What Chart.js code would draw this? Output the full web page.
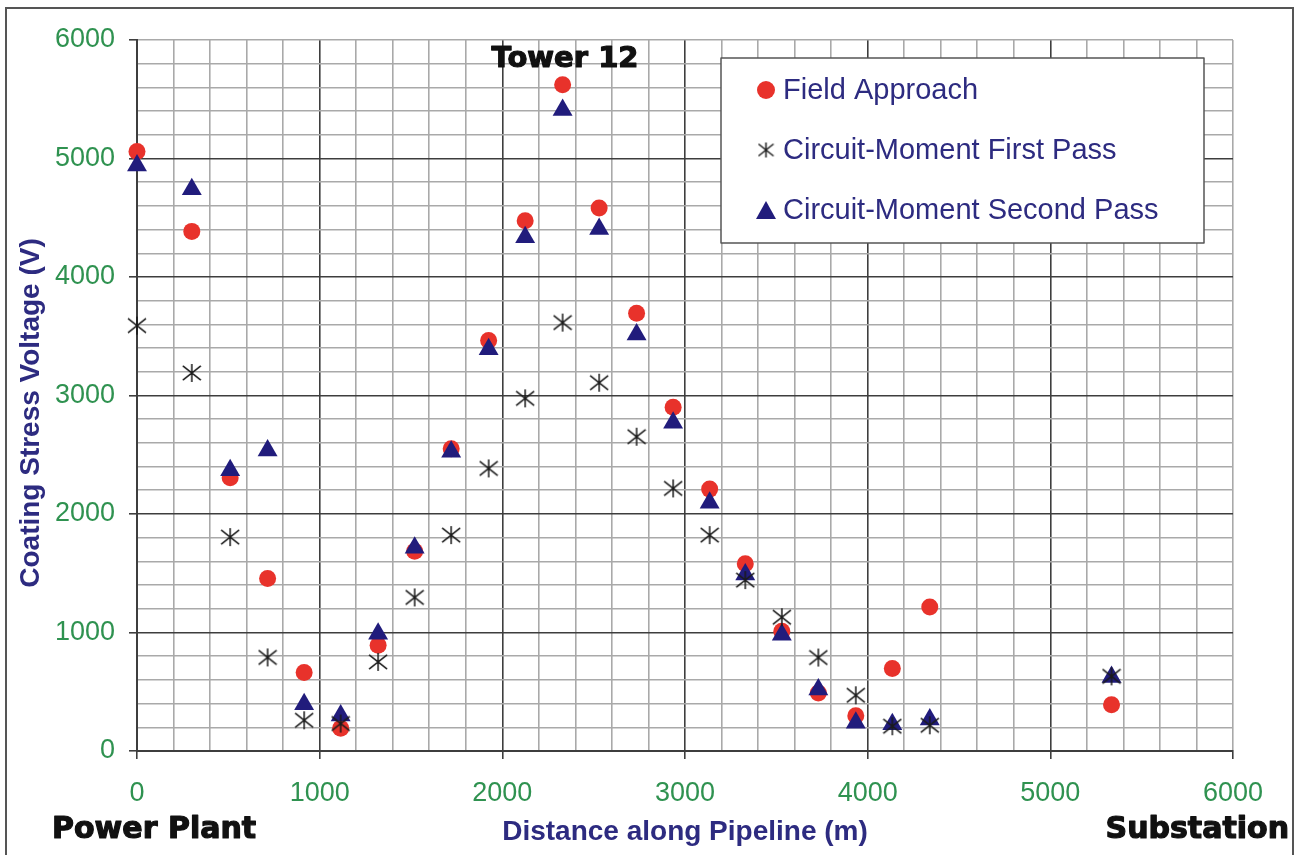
<!DOCTYPE html>
<html>
<head>
<meta charset="utf-8">
<script src="https://cdn.jsdelivr.net/npm/chart.js@4"></script>
<style>
  html, body { margin: 0; padding: 0; background: #fff; }
  #wrap { width: 1296px; height: 855px; position: relative; }
</style>
</head>
<body>
<div id="wrap"><canvas id="chartCanvas" width="1296" height="855"></canvas></div>
<script>
// distance along pipeline (m), shared by all three series
const distances = [0, 300, 510, 715, 915, 1115, 1320, 1520, 1720, 1925, 2125, 2330, 2530, 2735, 2935, 3135, 3330, 3530, 3730, 3935, 4135, 4340, 5335];
const fieldApproach = [5060, 4385, 2305, 1456, 662, 192, 893, 1685, 2550, 3465, 4475, 5622, 4582, 3695, 2900, 2210, 1580, 1011, 490, 297, 697, 1215, 390];
const firstPass = [3590, 3190, 1805, 790, 259, 232, 752, 1296, 1822, 2385, 2976, 3615, 3108, 2652, 2216, 1822, 1442, 1129, 789, 470, 209, 217, 630];
const secondPass = [4940, 4740, 2370, 2535, 395, 300, 990, 1715, 2525, 3390, 4335, 5410, 4405, 3515, 2770, 2095, 1490, 980, 520, 238, 225, 265, 625];
const seriesNames = ['Field Approach', 'Circuit-Moment First Pass', 'Circuit-Moment Second Pass'];
const xTicks = [0, 1000, 2000, 3000, 4000, 5000, 6000];
const yTicks = [0, 1000, 2000, 3000, 4000, 5000, 6000];

const RED = '#e8322b';
const NAVY = '#211c7c';
const TEXT_NAVY = '#2d2b80';
const GREEN = '#2f9250';
const MAJOR = '#3e3e3e';
const MINOR = '#a9a9a9';

function makeStar(size, lw) {
  const c = document.createElement('canvas');
  c.width = size; c.height = size;
  const g = c.getContext('2d');
  const m = size / 2, r = size / 2 - 1;
  g.strokeStyle = '#1a1a1a';
  g.lineWidth = lw;
  g.beginPath();
  g.moveTo(m - r, m - r * 0.8); g.lineTo(m + r, m + r * 0.8);
  g.moveTo(m - r, m + r * 0.8); g.lineTo(m + r, m - r * 0.8);
  g.moveTo(m, m - r); g.lineTo(m, m + r);
  g.stroke();
  return c;
}
const starMark = makeStar(20, 1.5);
const starLegend = makeStar(17, 1.5);

function pts(ys) {
  return distances.map((d, i) => ({ x: d, y: ys[i] }));
}

const isMajor = v => v % 1000 === 0;

function heavyText(c, txt, x, y) {
  c.fillText(txt, x, y);
  c.strokeText(txt, x, y);
}

const extras = {
  id: 'extras',
  afterDraw(chart) {
    const c = chart.ctx;
    c.save();
    // outer frame
    c.strokeStyle = '#555';
    c.lineWidth = 2;
    c.beginPath();
    c.moveTo(6, 860); c.lineTo(6, 8); c.lineTo(1293, 8); c.lineTo(1293, 860);
    c.stroke();

    // y axis title
    c.save();
    c.translate(31, 413);
    c.rotate(-Math.PI / 2);
    c.fillStyle = TEXT_NAVY;
    c.font = 'bold 28px "Liberation Sans"';
    c.textAlign = 'center';
    c.textBaseline = 'middle';
    c.fillText('Coating Stress Voltage (V)', 0, 0);
    c.restore();

    // end labels
    c.fillStyle = '#111';
    c.strokeStyle = '#111';
    c.lineWidth = 1.2;
    c.lineJoin = 'round';
    c.font = 'bold 30px "DejaVu Sans"';
    c.textBaseline = 'alphabetic';
    c.textAlign = 'left';
    heavyText(c, 'Power Plant', 52, 838);
    c.textAlign = 'right';
    heavyText(c, 'Substation', 1289, 838);
    c.textAlign = 'center';
    c.font = 'bold 29px "DejaVu Sans"';
    heavyText(c, 'Tower 12', 565, 67);

    // legend
    c.fillStyle = '#fff';
    c.fillRect(721, 58, 483, 185);
    c.strokeStyle = '#555';
    c.lineWidth = 1.5;
    c.strokeRect(721, 58, 483, 185);
    const rows = [90, 150, 210];
    const mx = 766;
    c.fillStyle = RED;
    c.beginPath(); c.arc(mx, rows[0], 9, 0, Math.PI * 2); c.fill();
    c.drawImage(starLegend, mx - 8.5, rows[1] - 8.5);
    c.fillStyle = NAVY;
    c.beginPath();
    c.moveTo(mx, rows[2] - 9); c.lineTo(mx + 10, rows[2] + 9); c.lineTo(mx - 10, rows[2] + 9); c.closePath();
    c.fill();
    c.fillStyle = TEXT_NAVY;
    c.font = '29px "Liberation Sans"';
    c.textAlign = 'left';
    c.textBaseline = 'middle';
    seriesNames.forEach((n, i) => c.fillText(n, 783, rows[i] + 1));
    c.restore();
  }
};

const ctx = document.getElementById('chartCanvas').getContext('2d');
new Chart(ctx, {
  type: 'scatter',
  data: {
    datasets: [
      {
        label: seriesNames[1],
        data: pts(firstPass),
        pointStyle: starMark,
        pointRadius: 10,
        order: 1,
        clip: false
      },
      {
        label: seriesNames[2],
        data: pts(secondPass),
        pointStyle: 'triangle',
        pointRadius: 11.5,
        backgroundColor: NAVY,
        borderColor: NAVY,
        borderWidth: 0,
        order: 2,
        clip: false
      },
      {
        label: seriesNames[0],
        data: pts(fieldApproach),
        pointStyle: 'circle',
        pointRadius: 8.5,
        backgroundColor: RED,
        borderColor: RED,
        borderWidth: 0,
        order: 3,
        clip: false
      }
    ]
  },
  options: {
    responsive: false,
    animation: false,
    layout: { padding: { left: 0, top: 40, right: 63, bottom: 0 } },
    plugins: {
      legend: { display: false },
      tooltip: { enabled: false }
    },
    scales: {
      x: {
        type: 'linear',
        min: 0,
        max: 6000,
        afterFit: s => { s.height = 104; },
        afterBuildTicks: s => { s.ticks = Array.from({ length: 31 }, (_, i) => ({ value: i * 200 })); },
        ticks: {
          autoSkip: false,
          maxRotation: 0,
          padding: 18,
          color: GREEN,
          font: { family: 'Liberation Sans', size: 27 },
          callback: v => xTicks.includes(v) ? String(v) : ''
        },
        grid: {
          tickLength: 8,
          lineWidth: 1.6,
          color: c => (isMajor(c.tick.value) && c.tick.value !== 6000) ? MAJOR : MINOR,
          tickColor: c => isMajor(c.tick.value) ? MAJOR : 'rgba(0,0,0,0)'
        },
        border: { color: MAJOR, width: 2 },
        title: {
          display: true,
          text: 'Distance along Pipeline (m)',
          color: TEXT_NAVY,
          font: { family: 'Liberation Sans', size: 28, weight: 'bold' },
          padding: { top: 0, bottom: 6 }
        }
      },
      y: {
        type: 'linear',
        min: 0,
        max: 6000,
        afterFit: s => { s.width = 137; },
        afterBuildTicks: s => { s.ticks = Array.from({ length: 31 }, (_, i) => ({ value: i * 200 })); },
        ticks: {
          autoSkip: false,
          padding: 14,
          color: GREEN,
          font: { family: 'Liberation Sans', size: 27 },
          callback: v => yTicks.includes(v) ? String(v) : ''
        },
        grid: {
          tickLength: 8,
          lineWidth: 1.6,
          color: c => (isMajor(c.tick.value) && c.tick.value !== 6000) ? MAJOR : MINOR,
          tickColor: c => isMajor(c.tick.value) ? MAJOR : 'rgba(0,0,0,0)'
        },
        border: { color: MAJOR, width: 2 },
        title: { display: false }
      }
    }
  },
  plugins: [extras]
});
</script>
</body>
</html>
